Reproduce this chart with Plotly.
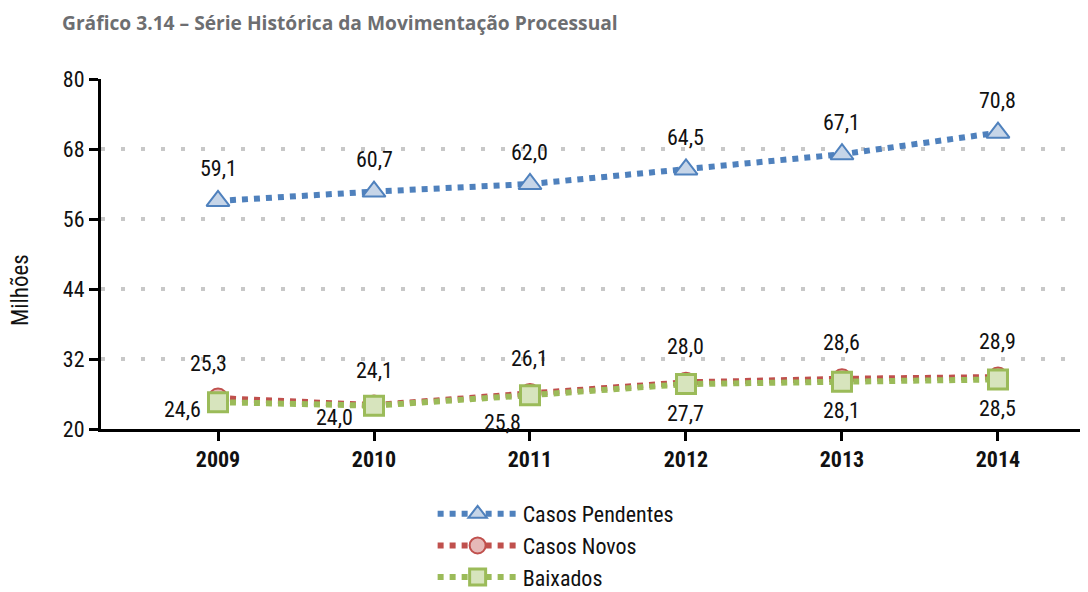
import plotly.graph_objects as go

years = ["2009", "2010", "2011", "2012", "2013", "2014"]
pendentes = [59.1, 60.7, 62.0, 64.5, 67.1, 70.8]
novos = [25.3, 24.1, 26.1, 28.0, 28.6, 28.9]
baixados = [24.6, 24.0, 25.8, 27.7, 28.1, 28.5]
y_ticks = [20, 32, 44, 56, 68, 80]

xpos = list(range(len(years)))
FONT = "Roboto Condensed, Liberation Sans Narrow, Arial Narrow, Liberation Sans, sans-serif"
LBL = dict(family=FONT, size=22, color="#111111")

# label offsets in pixels (style only)
pend_shift = [(0, 32)] * 6
novos_shift = [(-10, 35), (0, 35), (0, 35), (0, 36), (0, 36), (0, 36)]
baix_shift = [(-36, -7), (-40, -12), (-27, -27), (0, -29), (0, -29), (0, -29)]

fig = go.Figure()

fig.add_trace(go.Scatter(
    x=xpos, y=pendentes, name="Casos Pendentes", mode="lines+markers",
    line=dict(color="#4f81bd", width=6, dash="dot"),
    marker=dict(symbol="triangle-up", size=20, color="#c6d5e8",
                line=dict(color="#4f81bd", width=2)),
    cliponaxis=False,
))
fig.add_trace(go.Scatter(
    x=xpos, y=novos, name="Casos Novos", mode="lines+markers",
    line=dict(color="#c0504d", width=6, dash="dot"),
    marker=dict(symbol="circle", size=19, color="#e6b9b8",
                line=dict(color="#c0504d", width=2)),
    cliponaxis=False,
))
fig.add_trace(go.Scatter(
    x=xpos, y=baixados, name="Baixados", mode="lines+markers",
    line=dict(color="#9bbb59", width=6, dash="dot"),
    marker=dict(symbol="square", size=19, color="#d7e4bd",
                line=dict(color="#9bbb59", width=3)),
    cliponaxis=False,
))

for vals, shifts in ((pendentes, pend_shift), (novos, novos_shift), (baixados, baix_shift)):
    for xi, v, (dx, dy) in zip(xpos, vals, shifts):
        fig.add_annotation(
            x=xi, y=v, text=f"{v:.1f}".replace(".", ","), showarrow=False,
            xshift=dx, yshift=dy, font=LBL,
        )

fig.update_layout(
    width=1080, height=584,
    margin=dict(l=93, r=0, t=71, b=163, autoexpand=False),
    paper_bgcolor="white", plot_bgcolor="white",
    separators=",.",
    font=dict(family=FONT, size=20, color="#111111"),
    showlegend=True,
    legend=dict(x=0.336, y=-0.183, xanchor="left", yanchor="top", itemwidth=80,
                font=dict(family=FONT, size=22, color="#111111"),
                bgcolor="rgba(0,0,0,0)", tracegroupgap=0),
    title=dict(text="<b>Gráfico 3.14 – Série Histórica da Movimentação Processual</b>",
               x=54 / 1080, xref="container", xanchor="left",
               y=1 - 15 / 584, yref="container", yanchor="middle",
               pad=dict(l=0, r=0, t=0, b=0),
               font=dict(family="Open Sans, sans-serif", size=19.2, color="#6d6e71")),
)

fig.update_xaxes(
    range=[-0.75, 5.577], tickmode="array", tickvals=xpos,
    ticktext=["<b>%s</b>" % y for y in years],
    showgrid=False, zeroline=False, automargin=False,
    showline=True, linecolor="black", linewidth=3,
    ticks="outside", ticklen=9, tickwidth=3, tickcolor="black",
    tickfont=dict(family=FONT, size=22, color="#111111"),
)
fig.update_yaxes(
    range=[20, 80], tickmode="array", tickvals=y_ticks,
    showgrid=True, gridcolor="#c8c8c8", gridwidth=4, griddash="4px,16px",
    zeroline=False, automargin=False,
    showline=True, linecolor="black", linewidth=3,
    ticks="outside", ticklen=9, tickwidth=3, tickcolor="black",
    tickfont=dict(family=FONT, size=22, color="#111111"),
)

fig.add_annotation(
    text="Milhões", xref="paper", yref="paper", x=-0.082, y=0.397,
    xanchor="center", yanchor="middle",
    textangle=-90, showarrow=False,
    font=dict(family=FONT, size=23, color="#111111"),
)

fig.write_html("out.html")
